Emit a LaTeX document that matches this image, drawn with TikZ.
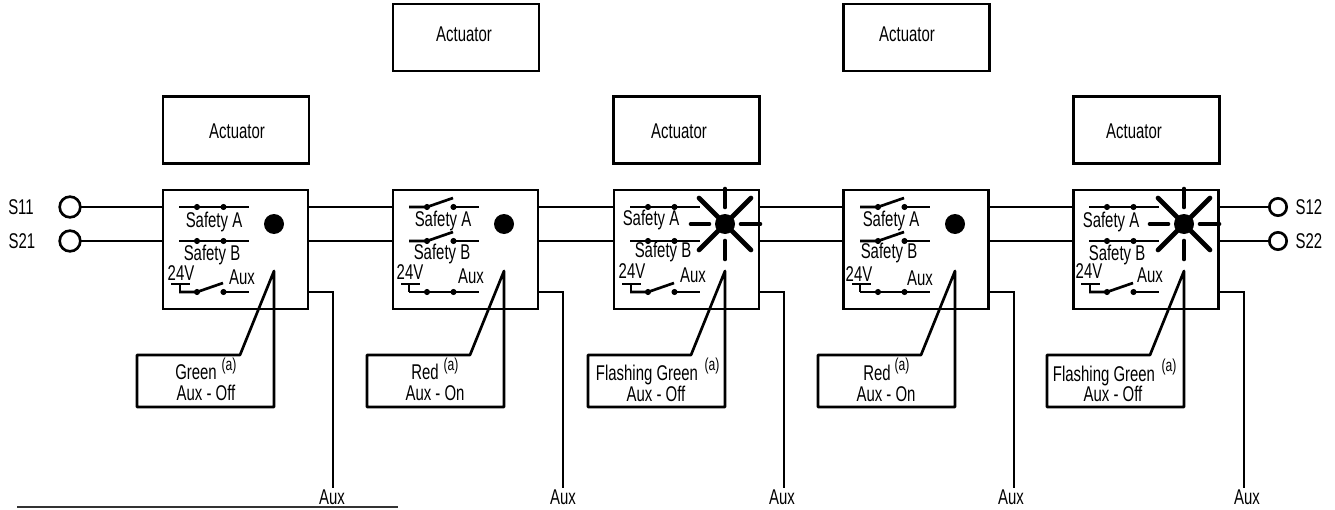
\documentclass[tikz,border=0pt]{standalone}
\usepackage{fontspec}
\setmainfont[FakeStretch=.70]{Liberation Sans}
\tikzset{
  ln/.style={line width=2pt,black},
  modbox/.style={ln,draw,rectangle,inner sep=0,outer sep=0,minimum width=108.75pt,minimum height=89.25pt},
  actbox/.style={ln,draw,rectangle,inner sep=0,outer sep=0,minimum width=109.5pt,minimum height=50.25pt},
  term/.style={ln,draw,circle,inner sep=0,outer sep=0,minimum size=15.5pt},
  termr/.style={ln,draw,circle,inner sep=0,outer sep=0,minimum size=13pt},
  dotn/.style={circle,fill=black,inner sep=0,outer sep=0,minimum size=4.6pt},
  lamp/.style={circle,fill=black,inner sep=0,outer sep=0,minimum size=15pt},
  lbl/.style={inner sep=0,outer sep=0,font=\fontsize{16}{16}\selectfont,text height=10.5pt,text depth=0pt},
  sup/.style={inner sep=0,outer sep=0,font=\fontsize{13}{13}\selectfont,text height=8.5pt,text depth=0pt},
  ray/.style={line width=3.5pt,line cap=round,black}
}
\newcommand{\ClosedContact}[3]{% id, x of line start, y
  \coordinate (#1l) at (#2,#3);
  \coordinate (#1r) at (#2+70,#3);
  \node[dotn] (#1p) at (#2+18,#3) {};
  \node[dotn] (#1q) at (#2+44.5,#3) {};
  \draw[ln] (#1l) -- (#1r);
}
\newcommand{\OpenContact}[3]{%
  \coordinate (#1l) at (#2,#3);
  \coordinate (#1r) at (#2+70,#3);
  \coordinate (#1t) at (#2+44,#3-9);
  \node[dotn] (#1p) at (#2+18,#3) {};
  \node[dotn] (#1q) at (#2+44.5,#3) {};
  \draw[ln] (#1l) -- (#1p.center) -- (#1t);
  \draw[ln] (#1q.center) -- (#1r);
}
\newcommand{\Feed}[4]{% id, x of stem, bar left, bar right
  \coordinate (#1b) at (#2,284);
  \coordinate (#1bl) at (#3,284);
  \coordinate (#1br) at (#4,284);
  \draw[ln] (#1bl) -- (#1br);
  \draw[ln] (#1b) |- (#1l);
}
\newcommand{\Flash}[1]{%
  \foreach \ax/\ay/\bx/\by in {0/-35/0/-17, 0/17/0/35, -34/0/-16/0, 16/0/35/0, -26/-26/0/0, 26/-26/0/0, -26/26/0/0, 26/26/0/0}
    \draw[ray] ([shift={(\ax,\ay)}]#1.center) -- ([shift={(\bx,\by)}]#1.center);
}
\newcommand{\Callout}[4]{% id, left, right, foot x
  \coordinate (#1tip) at (#3,271);
  \coordinate (#1foot) at (#4,355);
  \coordinate (#1nw) at (#2,355);
  \coordinate (#1sw) at (#2,407);
  \coordinate (#1se) at (#3,407);
  \draw[ln,line join=round] (#1tip) -- (#1foot) -- (#1nw) -- (#1sw) -- (#1se) -- cycle;
}
\begin{document}
\begin{tikzpicture}[x=.75pt,y=-.75pt]
\useasboundingbox (0,0) rectangle (1335,510);

% actuators
\node[actbox] (act1) at (236,130) {};
\node[actbox] (act2) at (466,37.5) {};
\node[actbox] (act3) at (686.5,130) {};
\node[actbox] (act4) at (916.5,37.5) {};
\node[actbox] (act5) at (1146.5,130) {};
\node[lbl] at (237,131) {Actuator};
\node[lbl] at (464,35) {Actuator};
\node[lbl] at (679,131) {Actuator};
\node[lbl] at (907,35) {Actuator};
\node[lbl] at (1134,131) {Actuator};

% modules
\node[modbox] (m1) at (235.5,249.5) {};
\node[modbox] (m2) at (465.5,249.5) {};
\node[modbox] (m3) at (686.5,249.5) {};
\node[modbox] (m4) at (916,249.5) {};
\node[modbox] (m5) at (1146,249.5) {};

% terminals
\node[term] (s11) at (70,207) {};
\node[term] (s21) at (70,241) {};
\node[termr] (s12) at (1278,207) {};
\node[termr] (s22) at (1278,241) {};
\node[lbl] at (21,207) {S11};
\node[lbl] at (22,241) {S21};
\node[lbl] at (1309,207) {S12};
\node[lbl] at (1309,241) {S22};

% series wiring
\draw[ln] (s11.east) -- (s11.east -| m1.west);
\draw[ln] (s21.east) -- (s21.east -| m1.west);
\draw[ln] (m1.east |- s11) -- (m2.west |- s11);
\draw[ln] (m1.east |- s21) -- (m2.west |- s21);
\draw[ln] (m2.east |- s11) -- (m3.west |- s11);
\draw[ln] (m2.east |- s21) -- (m3.west |- s21);
\draw[ln] (m3.east |- s11) -- (m4.west |- s11);
\draw[ln] (m3.east |- s21) -- (m4.west |- s21);
\draw[ln] (m4.east |- s11) -- (m5.west |- s11);
\draw[ln] (m4.east |- s21) -- (m5.west |- s21);
\draw[ln] (m5.east |- s12) -- (s12.west);
\draw[ln] (m5.east |- s22) -- (s22.west);

% contacts module 1
\ClosedContact{a1}{179}{207}
\ClosedContact{b1}{179}{241}
\OpenContact{x1}{179}{292}
\Feed{x1}{180}{171}{190}
\node[lbl] at (214,220) {Safety A};
\node[lbl] at (212,253) {Safety B};
\node[lbl] at (181,273) {24V};
\node[lbl] at (242,277) {Aux};
\node[lamp] (l1) at (274,224) {};

% contacts module 2
\OpenContact{a2}{409}{207}
\OpenContact{b2}{409}{241}
\ClosedContact{x2}{409}{292}
\Feed{x2}{409}{401}{420}
\node[lbl] at (443,219) {Safety A};
\node[lbl] at (442,252) {Safety B};
\node[lbl] at (410,272) {24V};
\node[lbl] at (471,276) {Aux};
\node[lamp] (l2) at (504,224) {};

% contacts module 3
\ClosedContact{a3}{630}{207}
\ClosedContact{b3}{630}{241}
\OpenContact{x3}{630}{292}
\Feed{x3}{631}{622}{641}
\node[lbl] at (651,218) {Safety A};
\node[lbl] at (663,250) {Safety B};
\node[lbl] at (632,271) {24V};
\node[lbl] at (693,275) {Aux};
\node[lamp] (l3) at (725,224) {};
\Flash{l3}

% contacts module 4
\OpenContact{a4}{860}{207}
\OpenContact{b4}{860}{241}
\ClosedContact{x4}{860}{292}
\Feed{x4}{860}{852}{871}
\node[lbl] at (891,219) {Safety A};
\node[lbl] at (889,251) {Safety B};
\node[lbl] at (859,274) {24V};
\node[lbl] at (920,278) {Aux};
\node[lamp] (l4) at (955,224) {};

% contacts module 5
\ClosedContact{a5}{1089}{207}
\ClosedContact{b5}{1089}{241}
\OpenContact{x5}{1089}{292}
\Feed{x5}{1090}{1081}{1100}
\node[lbl] at (1111,220) {Safety A};
\node[lbl] at (1117,253) {Safety B};
\node[lbl] at (1089,271) {24V};
\node[lbl] at (1150,275) {Aux};
\node[lamp] (l5) at (1184,224) {};
\Flash{l5}

% callouts
\Callout{c1}{137}{274}{240}
\node[lbl] at (196,372) {Green};
\node[sup] at (229,365) {(a)};
\node[lbl] at (206,393) {Aux - Off};

\Callout{c2}{367}{504}{470}
\node[lbl] at (425,372) {Red};
\node[sup] at (451,365) {(a)};
\node[lbl] at (435,393) {Aux - On};

\Callout{c3}{588}{725}{691}
\node[lbl] at (647,373) {Flashing Green};
\node[sup] at (712,365) {(a)};
\node[lbl] at (656,394) {Aux - Off};

\Callout{c4}{818}{955}{921}
\node[lbl] at (877,373) {Red};
\node[sup] at (902,365) {(a)};
\node[lbl] at (886,394) {Aux - On};

\Callout{c5}{1047}{1184}{1150}
\node[lbl] at (1104,374) {Flashing Green};
\node[sup] at (1169,366) {(a)};
\node[lbl] at (1113,394) {Aux - Off};

% aux outputs
\node[lbl] (aux1) at (332,497) {Aux};
\node[lbl] (aux2) at (563,497) {Aux};
\node[lbl] (aux3) at (782,497) {Aux};
\node[lbl] (aux4) at (1011,497) {Aux};
\node[lbl] (aux5) at (1247,497) {Aux};
\coordinate (e1) at (333,488);
\coordinate (e2) at (563,488);
\coordinate (e3) at (784,488);
\coordinate (e4) at (1014,488);
\coordinate (e5) at (1244,488);
\draw[ln] (m1.east |- x1l) -| (e1);
\draw[ln] (m2.east |- x1l) -| (e2);
\draw[ln] (m3.east |- x1l) -| (e3);
\draw[ln] (m4.east |- x1l) -| (e4);
\draw[ln] (m5.east |- x1l) -| (e5);

% footnote rule
\coordinate (ruleL) at (17,507);
\coordinate (ruleR) at (398,507);
\draw[line width=1.5pt,black!80] (ruleL) -- (ruleR);
\end{tikzpicture}
\end{document}
